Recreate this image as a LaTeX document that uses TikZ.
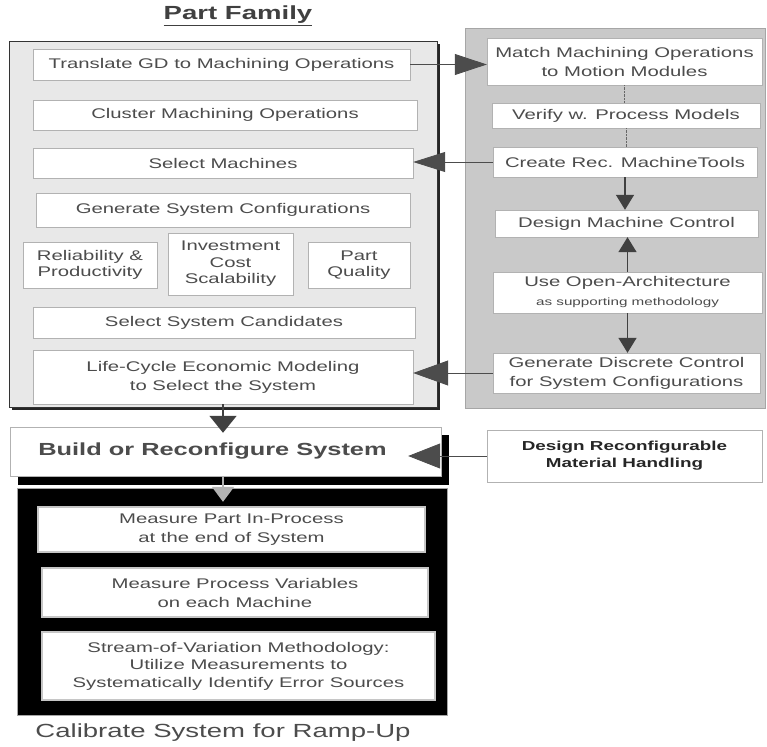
\documentclass[tikz,border=0pt]{standalone}
\usepackage{fontspec}
\setmainfont{Liberation Sans}[FakeStretch=1.45]
\usetikzlibrary{arrows.meta}

\begin{document}
\begin{tikzpicture}[x=1pt,y=-1pt,
    box/.style={draw=gray!60,fill=white,align=center,inner sep=0pt,text=black!70,font=\fontsize{14}{19}\selectfont},
    trio/.style={box,font=\fontsize{14}{16.5}\selectfont},
    mbox/.style={box,draw=gray!45,line width=2pt},
    fampanel/.style={draw=black!80,fill=gray!18},
    ctrlpanel/.style={draw=gray!70,fill=gray!42},
    conn/.style={draw=black!70,line width=0.8pt},
    bigarr/.style={draw=black!75,line width=1.6pt}]
    \useasboundingbox (0,0) rectangle (767,746);
    % panels
    \fill[black!85] (12,44) rectangle (440,410);
    \node[fampanel,minimum width=428,minimum height=366] (family) at (223,224) {};
    \node[ctrlpanel,minimum width=300,minimum height=380] (control) at (615,218) {};
    \node[draw=gray!70,fill=black,minimum width=430,minimum height=227] (calpanel) at (232,601.5) {};
    \node[text=black!75,font=\bfseries\fontsize{19}{19}\selectfont] (famtitle) at (238,16) {\underline{Part Family}};
    % part family boxes
    \node[box,minimum width=377,minimum height=31] (trans) at (221.5,64.5) {Translate GD to Machining Operations};
    \node[box,minimum width=384,minimum height=30] (cluster) at (225,115) {Cluster Machining Operations};
    \node[box,minimum width=380,minimum height=30] (selmach) at (223,163) {Select Machines};
    \node[box,minimum width=374,minimum height=34] (genconf) at (223,210) {Generate System Configurations};
    \node[trio,minimum width=134,minimum height=46] (reliab) at (90,265) {Reliability \&\\Productivity};
    \node[trio,minimum width=125,minimum height=62] (invest) at (230.5,264) {Investment\\Cost\\Scalability};
    \node[trio,minimum width=102,minimum height=46] (quality) at (359,265) {Part\\Quality};
    \node[box,minimum width=382,minimum height=31] (cands) at (224,322.5) {Select System Candidates};
    \node[box,minimum width=380,minimum height=54] (lifecyc) at (223,377) {Life-Cycle Economic Modeling\\to Select the System};
    % machine and control boxes
    \node[box,minimum width=275,minimum height=47] (match) at (624.5,61.5) {Match Machining Operations\\to Motion Modules};
    \node[box,minimum width=268,minimum height=25] (verify) at (626,115.5) {Verify w. Process Models};
    \node[box,minimum width=264,minimum height=30] (createmt) at (625,162) {Create Rec. MachineTools};
    \node[box,minimum width=263,minimum height=27] (desctrl) at (626.5,223.5) {Design Machine Control};
    \node[box,minimum width=269,minimum height=41] (openarch) at (627.5,292.5) {Use Open-Architecture\\{\fontsize{10.5}{12}\selectfont as supporting methodology}};
    \node[box,minimum width=267,minimum height=40] (discctrl) at (626.5,373) {Generate Discrete Control\\for System Configurations};
    % build and material handling
    \fill[black] (18,435) rectangle (449,485);
    \node[box,minimum width=431,minimum height=49,font=\bfseries\fontsize{17.5}{20}\selectfont] (build) at (225.5,451.5) {Build or Reconfigure System\hspace*{26pt}};
    \node[box,minimum width=275,minimum height=52,text=black!85,font=\bfseries\fontsize{13}{17}\selectfont] (matHandl) at (624.5,456) {Design Reconfigurable\\Material Handling};
    % calibration boxes
    \node[mbox,minimum width=387,minimum height=45] (measpart) at (231.5,529.5) {Measure Part In-Process\\at the end of System};
    \node[mbox,minimum width=386,minimum height=49] (measvar) at (235,592.5) {Measure Process Variables\\on each Machine};
    \node[mbox,minimum width=393,minimum height=68,font=\fontsize{14}{17.5}\selectfont] (stream) at (238.5,666) {Stream-of-Variation Methodology:\\Utilize Measurements to\\Systematically Identify Error Sources};
    \node[text=black!70,font=\fontsize{19}{19}\selectfont] (calib) at (223,733) {Calibrate System for Ramp-Up};
    % connectors
    \draw[conn,-{Triangle[length=32pt,width=21pt]}] (trans.east) -- (trans.east -| match.west);
    \draw[conn,-{Triangle[length=32pt,width=20pt]}] (createmt.west) -- (createmt.west -| selmach.east);
    \draw[conn,-{Triangle[length=35pt,width=25pt]}] (discctrl.west) -- (discctrl.west -| lifecyc.east);
    \draw[conn,shorten >=-33pt,-{Triangle[length=32pt,width=25pt]}] (matHandl.west) -- (matHandl.west -| build.east);
    \draw[bigarr,shorten >=-6pt,-{Triangle[length=17pt,width=27pt]}] (lifecyc.south) -- (lifecyc.south |- build.north);
    \draw[bigarr,draw=gray!60,shorten >=-14pt,-{Triangle[length=15pt,width=22pt]}] (lifecyc.south |- build.south) -- (lifecyc.south |- calpanel.north);
    \draw[black!60,densely dotted] (match.south) -- (match.south |- verify.north);
    \draw[black!60,densely dotted] (verify.south) -- (verify.south |- createmt.north);
    \draw[bigarr,-{Triangle[length=15pt,width=18pt]}] (createmt.south) -- (createmt.south |- desctrl.north);
    \draw[bigarr,-{Triangle[length=15pt,width=18pt]}] (openarch.north) -- (openarch.north |- desctrl.south);
    \draw[bigarr,-{Triangle[length=15pt,width=18pt]}] (openarch.south) -- (openarch.south |- discctrl.north);
\end{tikzpicture}
\end{document}
